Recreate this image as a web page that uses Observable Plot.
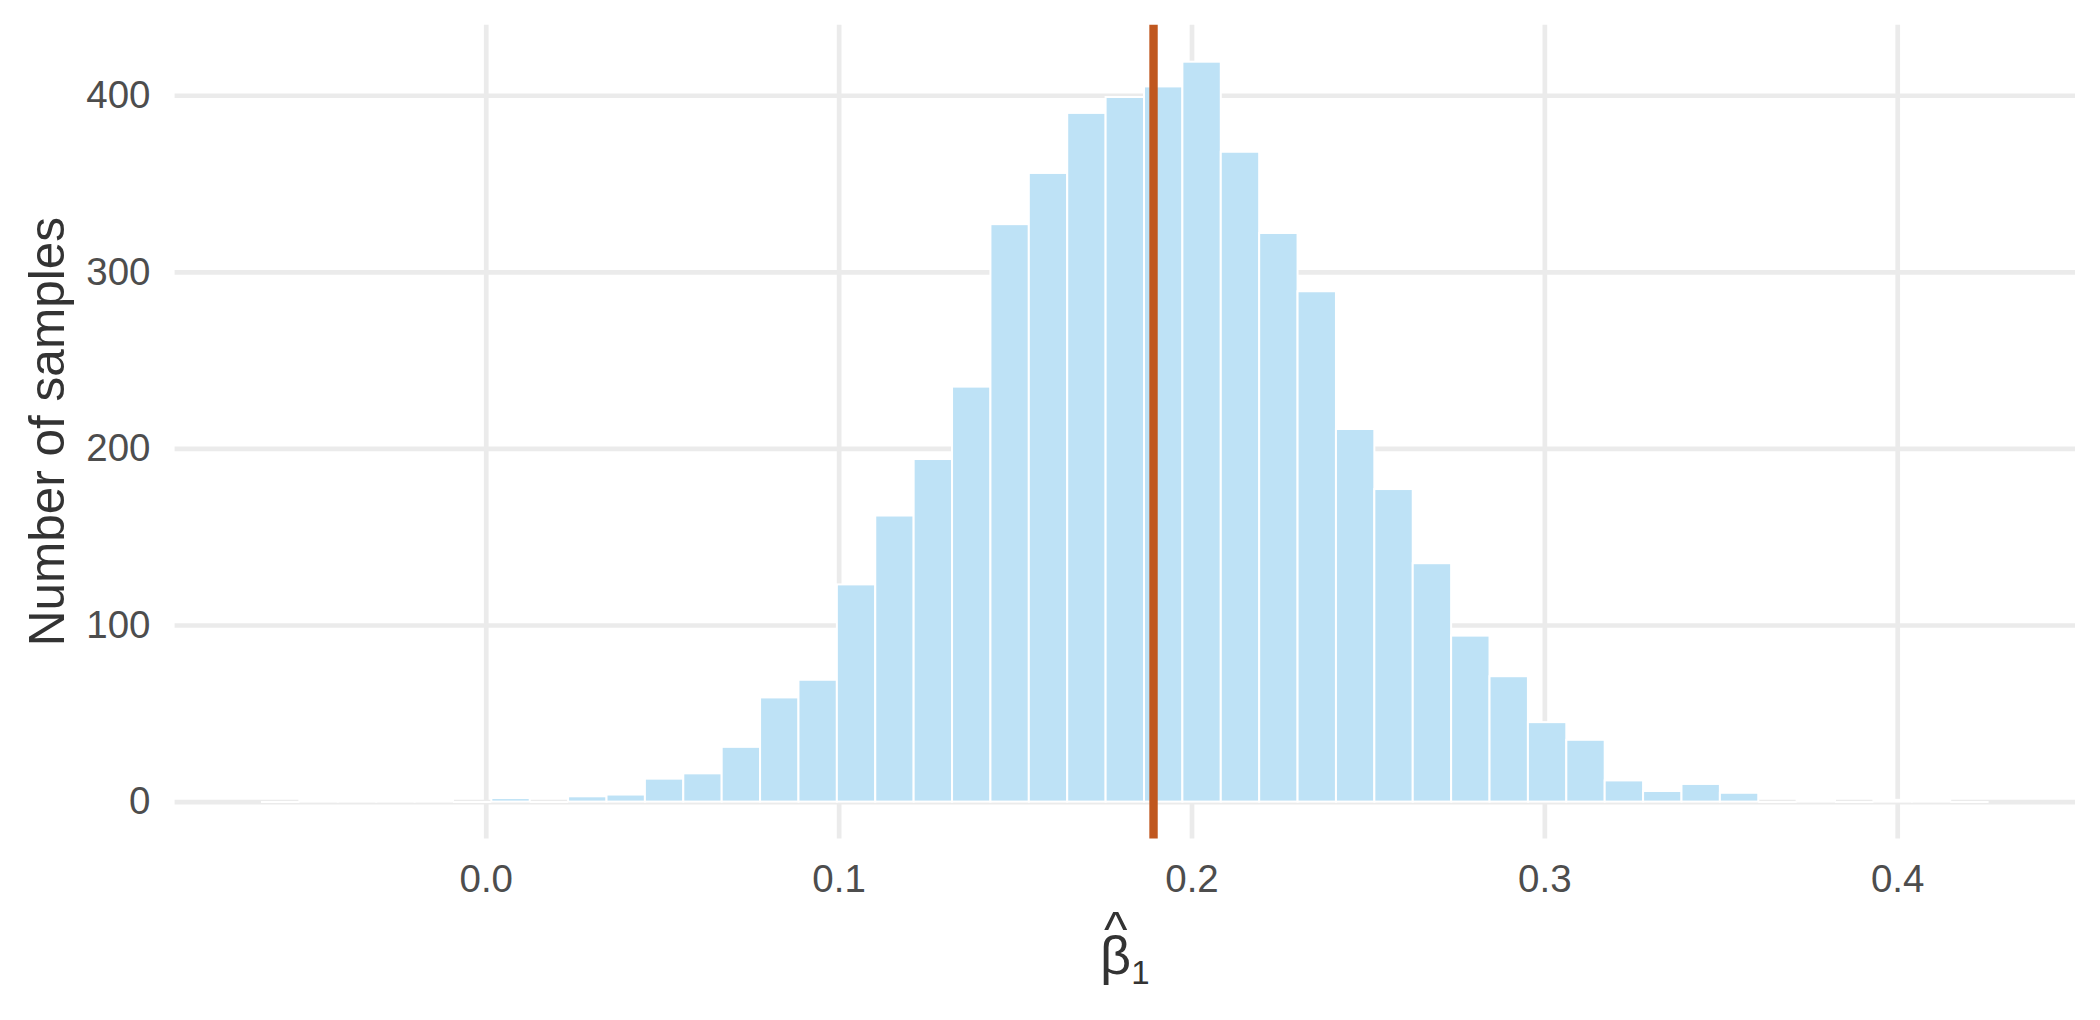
<!DOCTYPE html>
<html>
<head>
<meta charset="utf-8">
<script src="https://cdn.jsdelivr.net/npm/d3@7"></script>
<script src="https://cdn.jsdelivr.net/npm/@observablehq/plot@0.6"></script>
<style>
  html, body { margin: 0; padding: 0; background: #ffffff; }
  #chart { width: 2100px; height: 1020px; }
</style>
</head>
<body>
<div id="chart"></div>
<script>
// ---- data ----
const binStart = -0.0637;      // left edge of the first bin
const binWidth = 0.01088;      // histogram bin width
const counts = [0, 1, 1, 1, 1, 0, 2, 0, 3, 4,
                13, 16, 31, 59, 69, 123, 162, 194, 235, 327,
                356, 390, 399, 405, 419, 368, 322, 289, 211, 177,
                135, 94, 71, 45, 35, 12, 6, 10, 5, 0,
                1, 0, 1, 1, 0];
const estimate = [0.1891];     // vertical reference line
const xTicks = [0, 0.1, 0.2, 0.3, 0.4];
const yTicks = [0, 100, 200, 300, 400];
const yTitle = "Number of samples";

// ---- table for the bars ----
const bins = counts.map((c, i) => ({
  x1: binStart + i * binWidth,
  x2: binStart + (i + 1) * binWidth,
  count: c
}));
const emptyBins = bins.filter(d => d.count === 0);

const xLo = binStart, xHi = binStart + counts.length * binWidth;
const xPad = 0.05 * (xHi - xLo);
const yMax = d3.max(counts);
const yPad = 0.05 * yMax;

const W = 2100, H = 1020;
const mL = 174.6, mR = 25, mT = 24.7, mB = 181.4;
const FONT = "'Liberation Sans', Arial, Helvetica, sans-serif";
const grid = "#EBEBEB";

const plot = Plot.plot({
  width: W,
  height: H,
  marginLeft: mL,
  marginRight: mR,
  marginTop: mT,
  marginBottom: mB,
  style: { fontFamily: FONT, background: "#ffffff", color: "#4D4D4D" },
  x: { domain: [xLo - xPad, xHi + xPad], ticks: xTicks },
  y: { domain: [-yPad, yMax + yPad], ticks: yTicks },
  marks: [
    Plot.gridX(xTicks, { stroke: grid, strokeOpacity: 1, strokeWidth: 4.7 }),
    Plot.gridY(yTicks, { stroke: grid, strokeOpacity: 1, strokeWidth: 4.7 }),
    Plot.rect(bins, {
      x1: "x1", x2: "x2", y1: 0, y2: "count",
      fill: "#BEE2F6", stroke: "#ffffff", strokeWidth: 2
    }),
    // zero-height bins still show their white outline
    Plot.ruleY(emptyBins, { x1: "x1", x2: "x2", y: 0, stroke: "#ffffff", strokeWidth: 2 }),
    Plot.ruleX(estimate, { stroke: "#C0571F", strokeWidth: 8.4 }),
    Plot.axisX(xTicks, {
      tickSize: 0, tickPadding: 26, fontSize: 38.5, label: null,
      tickFormat: d3.format(".1f"), fill: "#4D4D4D"
    }),
    Plot.axisY(yTicks, {
      tickSize: 0, tickPadding: 24.6, fontSize: 38.5, label: null,
      fill: "#4D4D4D"
    })
  ]
});

document.getElementById("chart").appendChild(plot);

// ---- axis titles ----
const svg = d3.select(plot);
const cx = (mL + (W - mR)) / 2;
const cy = (mT + (H - mB)) / 2;

svg.append("text")
  .attr("transform", `translate(64,${cy}) rotate(-90)`)
  .attr("text-anchor", "middle")
  .attr("font-family", FONT)
  .attr("font-size", 49.5)
  .attr("fill", "#333333")
  .text(yTitle);

// x title: beta-hat with subscript 1, as one text element
const xt = svg.append("text")
  .attr("text-anchor", "middle")
  .attr("font-family", FONT)
  .attr("font-size", 54)
  .attr("fill", "#333333");
xt.append("tspan").attr("x", cx - 9).attr("y", 946).attr("font-size", 50).text("^");
xt.append("tspan").attr("x", cx).attr("y", 974).text("β");
xt.append("tspan").attr("font-size", 33).attr("dy", 10).text("1");
</script>
</body>
</html>
